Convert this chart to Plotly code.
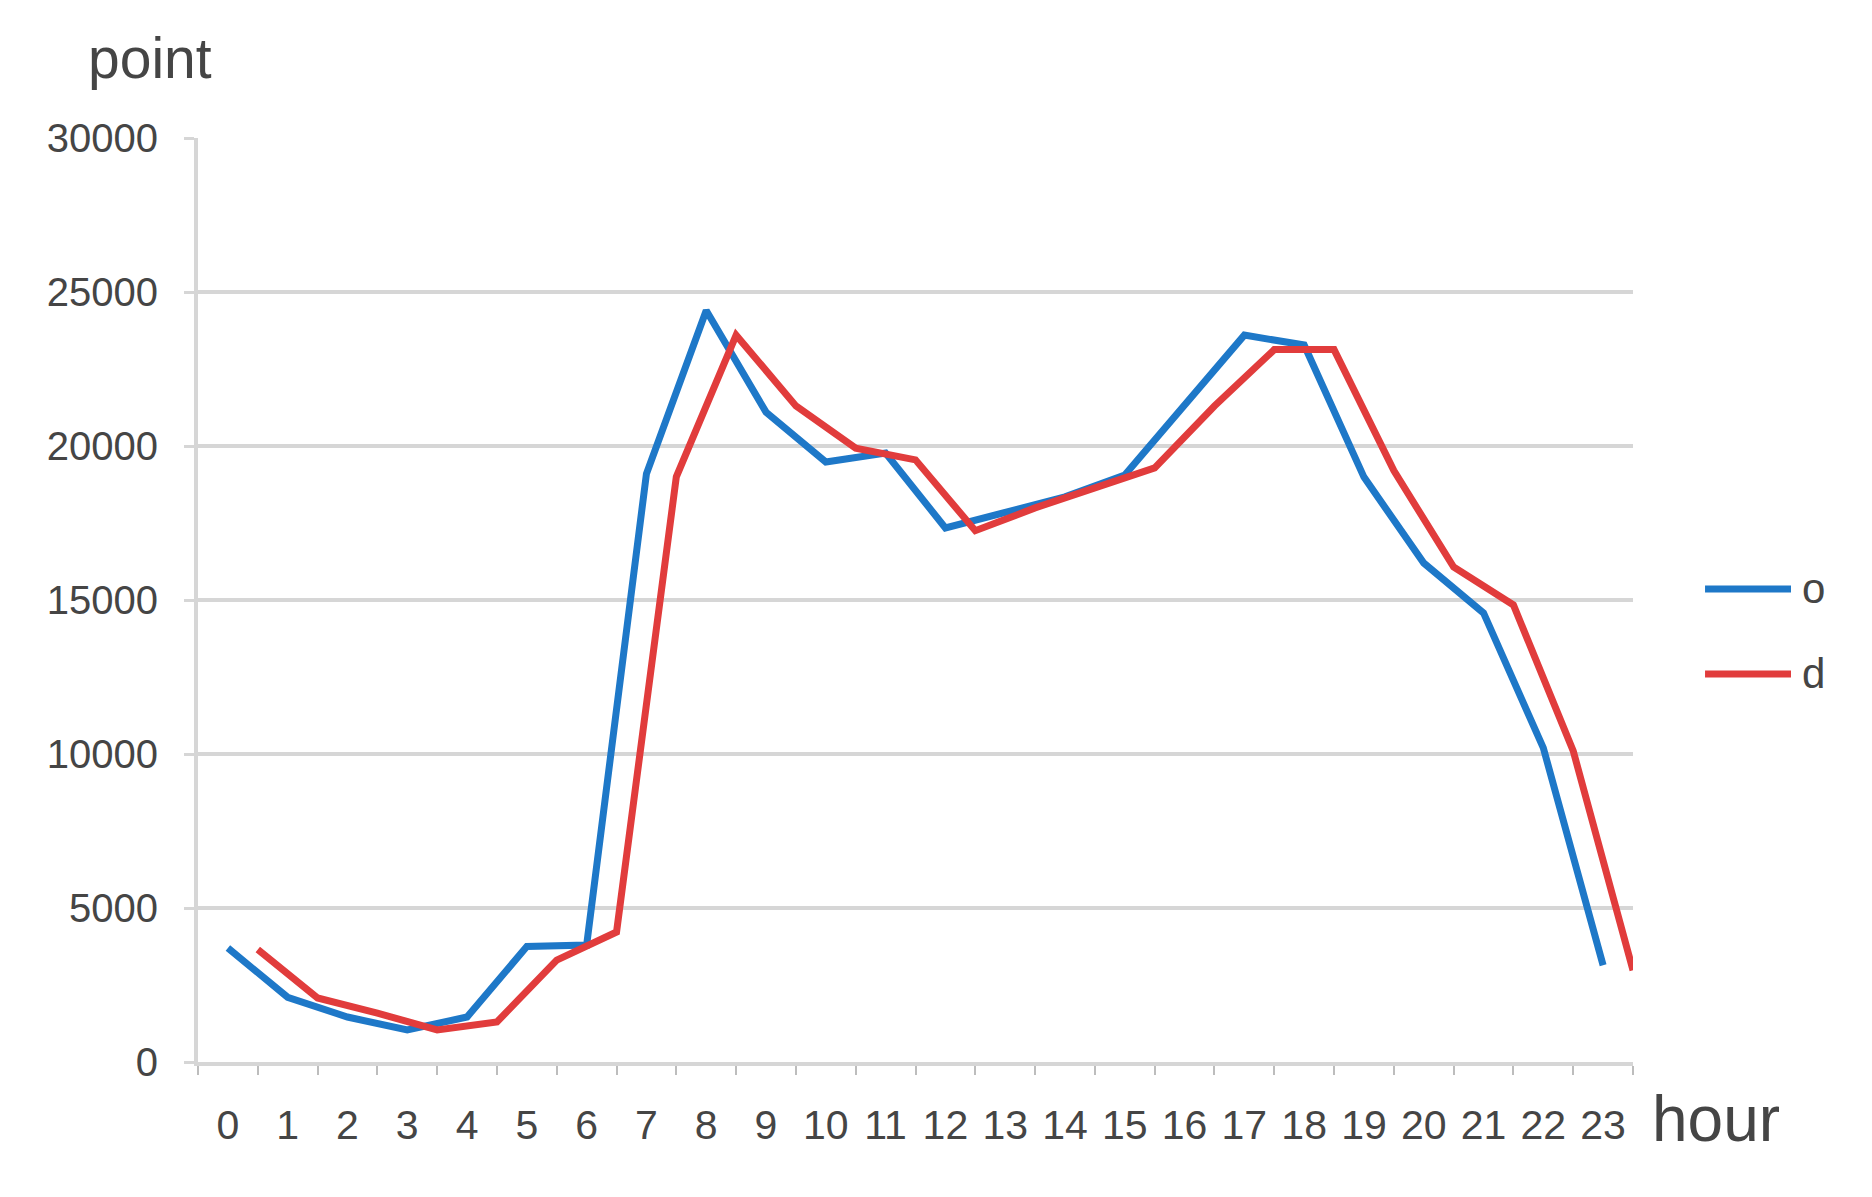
import plotly.graph_objects as go

hours = list(range(24))
hour_labels = [str(h) for h in hours]
origin_o = [3700, 2100, 1460, 1040, 1460, 3750, 3800, 19100, 24400, 21100, 19480, 19770,
            17340, 17820, 18350, 19060, 21300, 23600, 23280, 18990, 16200, 14580, 10200, 3140]
dest_d = [3650, 2080, 1590, 1040, 1300, 3310, 4220, 19000, 23600, 21300, 19930, 19550,
          17250, 17990, 18640, 19290, 21300, 23130, 23130, 19200, 16070, 14840, 10100, 2980]
series_names = ["o", "d"]
d_shift = 0.5  # destination series drawn half an hour later

colors = ["#1E78C8", "#E13C3C"]
grey_txt = "#454545"
grid_col = "#D6D6D6"

fig = go.Figure()
fig.add_trace(go.Scatter(x=hours, y=origin_o, mode="lines", name=series_names[0],
                         line=dict(color=colors[0], width=7), showlegend=False))
fig.add_trace(go.Scatter(x=[h + d_shift for h in hours], y=dest_d, mode="lines", name=series_names[1],
                         line=dict(color=colors[1], width=7), showlegend=False))

fig.update_layout(
    width=1856, height=1181,
    margin=dict(l=190, r=231, t=130, b=127),
    paper_bgcolor="white", plot_bgcolor="white",
    font=dict(family="Liberation Sans, Arial, sans-serif", color=grey_txt, size=40),
)
fig.update_xaxes(
    range=[-0.5, 23.5], tickvals=hours, ticktext=hour_labels, ticks="",
    tickfont=dict(size=41, color=grey_txt), ticklabelstandoff=24,
    showgrid=False, zeroline=False, showline=True, linecolor=grid_col, linewidth=4,
    minor=dict(ticks="outside", ticklen=9, tickwidth=2, tickcolor="#BDBDBD",
               tick0=-0.5, dtick=1, showgrid=False),
)
fig.update_yaxes(
    range=[0, 30000], dtick=5000, tickformat="d",
    ticks="outside", ticklen=10, tickwidth=3, tickcolor=grid_col,
    tickfont=dict(size=40, color=grey_txt), ticklabelstandoff=18,
    showgrid=True, gridcolor=grid_col, gridwidth=4,
    zeroline=False, showline=True, linecolor=grid_col, linewidth=4,
)

# axis titles
fig.add_annotation(text="point", xref="paper", yref="paper", x=-0.0334, y=1.0866,
                   xanchor="center", yanchor="middle", showarrow=False,
                   font=dict(size=57, color=grey_txt))
fig.add_annotation(text="hour", xref="paper", yref="paper", x=1.012, y=-0.062,
                   xanchor="left", yanchor="middle", showarrow=False,
                   font=dict(size=64, color=grey_txt))

# legend (drawn manually for long line samples)
leg_y = [0.512, 0.420]
for name, col, ly in zip(series_names, colors, leg_y):
    fig.add_shape(type="line", xref="paper", yref="paper", x0=1.0502, x1=1.1101, y0=ly, y1=ly,
                  line=dict(color=col, width=7))
    fig.add_annotation(text=name, xref="paper", yref="paper", x=1.1165, y=ly,
                       xanchor="left", yanchor="middle", showarrow=False,
                       font=dict(size=42, color=grey_txt))

fig.write_html("out.html")
